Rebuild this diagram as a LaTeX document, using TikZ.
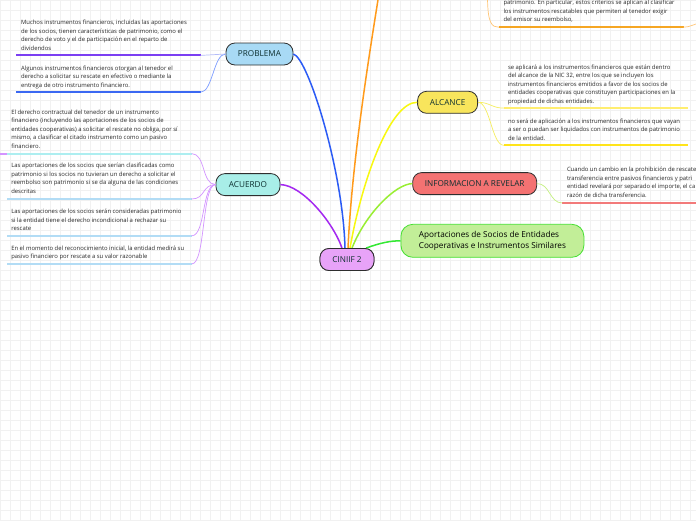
\documentclass[tikz,border=0pt]{standalone}
\usepackage{fontspec}
\setmainfont{Open Sans}
\definecolor{gridc}{HTML}{F1F1F1}
\definecolor{txtc}{HTML}{2A2A2A}
\definecolor{labc}{HTML}{0E3030}
\definecolor{bord}{HTML}{2E2E2E}
\definecolor{fcin}{HTML}{E8A3F8}
\definecolor{fprob}{HTML}{A8DAF5}
\definecolor{facu}{HTML}{A8EEE8}
\definecolor{falc}{HTML}{F8E55C}
\definecolor{finf}{HTML}{F47272}
\definecolor{fapo}{HTML}{C2EE98}
\definecolor{dapo}{HTML}{44E030}
\definecolor{cblue}{HTML}{2B5BF5}
\definecolor{cpurp}{HTML}{A428F0}
\definecolor{corg}{HTML}{FF9A1A}
\definecolor{cyel}{HTML}{F8F810}
\definecolor{clg}{HTML}{99EE33}
\definecolor{cgr}{HTML}{33E833}
\definecolor{kprob1}{HTML}{B4BCF8}
\definecolor{kprob2}{HTML}{7C9CFF}
\definecolor{kacu}{HTML}{D394FF}
\definecolor{kalc}{HTML}{F6EE60}
\definecolor{kinf}{HTML}{C4F080}
\definecolor{korg}{HTML}{FFC677}
\definecolor{uprob1}{HTML}{7B3FF2}
\definecolor{uprob2}{HTML}{3B68F2}
\definecolor{uacu1}{HTML}{ADEEF0}
\definecolor{uacu}{HTML}{B2DCF5}
\definecolor{ualc1}{HTML}{FFEE70}
\definecolor{ualc2}{HTML}{FFE41A}
\definecolor{uinf}{HTML}{F27A7A}
\definecolor{uorg}{HTML}{F5A623}
\begin{document}
\begin{tikzpicture}[x=1pt,y=-1pt,
  topic/.style={draw=bord, line width=0.8pt, rounded corners=9pt, minimum height=22pt, inner sep=0pt, font=\fontsize{8.2}{10}\selectfont, text=labc},
  txt/.style={anchor=north west, inner sep=0pt, align=left, font=\fontsize{5.9}{8.5}\selectfont, text=txtc},
  uline/.style={line width=2pt},
  branch/.style={line width=1.5pt},
  twig/.style={line width=0.7pt}]
\useasboundingbox (0,0) rectangle (696,520);
\clip (0,0) rectangle (696,520);
\fill[white] (0,0) rectangle (696,520);
\foreach \i in {0,10,...,690} \draw[gridc, line width=0.4pt] (\i,0) -- (\i,520);
\foreach \j in {0,10,...,520} \draw[gridc, line width=0.4pt] (0,\j) -- (696,\j);

% main topics
\node[topic, fill=fcin, minimum width=54pt] (cin) at (347,259.5) {CINIIF 2};
\node[topic, fill=fprob, minimum width=67pt] (prob) at (259.5,54) {PROBLEMA};
\node[topic, fill=facu, minimum width=64pt] (acu) at (248,184.6) {ACUERDO};
\node[topic, fill=falc, minimum width=60pt] (alc) at (447.6,102.3) {ALCANCE};
\node[topic, fill=finf, minimum width=124pt] (inf) at (474.7,183.6) {INFORMACION A REVELAR};
\node[topic, draw=dapo, fill=fapo, minimum width=183pt, minimum height=33pt, rounded corners=12pt, align=left, font=\fontsize{8.2}{11}\selectfont, text=black] (apo) at (492.4,240.8) {Aportaciones de Socios de Entidades\\Cooperativas e Instrumentos Similares};

% text blocks
\node[txt] (p1) at (20.9,19.9) {Muchos instrumentos financieros, incluidas las aportaciones\\de los socios, tienen características de patrimonio, como el\\derecho de voto y el de participación en el reparto de\\dividendos};
\node[txt] (p2) at (20.9,65.6) {Algunos instrumentos financieros otorgan al tenedor el\\derecho a solicitar su rescate en efectivo o mediante la\\entrega de otro instrumento financiero.};
\node[txt] (a1) at (11.1,109.4) {El derecho contractual del tenedor de un instrumento\\financiero (incluyendo las aportaciones de los socios de\\entidades cooperativas) a solicitar el rescate no obliga, por sí\\mismo, a clasificar el citado instrumento como un pasivo\\financiero.};
\node[txt] (a2) at (11.1,163.1) {Las aportaciones de los socios que serían clasificadas como\\patrimonio si los socios no tuvieran un derecho a solicitar el\\reembolso son patrimonio si se da alguna de las condiciones\\descritas};
\node[txt] (a3) at (11.1,208.9) {Las aportaciones de los socios serán consideradas patrimonio\\si la entidad tiene el derecho incondicional a rechazar su\\rescate};
\node[txt, font=\fontsize{5.9}{8}\selectfont] (a4) at (11.1,245.7) {En el momento del reconocimiento inicial, la entidad medirá su\\pasivo financiero por rescate a su valor razonable};
\node[txt] (l1) at (507.8,64.6) {se aplicará a los instrumentos financieros que están dentro\\del alcance de la NIC 32, entre los que se incluyen los\\instrumentos financieros emitidos a favor de los socios de\\entidades cooperativas que constituyen participaciones en la\\propiedad de dichas entidades.};
\node[txt] (l2) at (507.8,118.7) {no será de aplicación a los instrumentos financieros que vayan\\a ser o puedan ser liquidados con instrumentos de patrimonio\\de la entidad.};
\node[txt] (i1) at (566.8,167.1) {Cuando un cambio en la prohibición de rescate\\transferencia entre pasivos financieros y patri\\entidad revelará por separado el importe, el ca\\razón de dicha transferencia.};
\node[txt] (o1) at (503.3,0) {patrimonio. En particular, estos criterios se aplican al clasificar\\los instrumentos rescatables que permiten al tenedor exigir\\del emisor su reembolso,};

% underline end points
\coordinate (p1L) at (16.4,55.4);  \coordinate (p1R) at (200.6,55.4);
\coordinate (p2L) at (16.4,92.2);  \coordinate (p2R) at (200.6,92.2);
\coordinate (a1L) at (7,153.6);    \coordinate (a1R) at (191.7,153.6);
\coordinate (a2L) at (7,199);      \coordinate (a2R) at (191.7,199);
\coordinate (a3L) at (7,235.8);    \coordinate (a3R) at (191.7,235.8);
\coordinate (a4L) at (7,264);      \coordinate (a4R) at (191.7,264);
\coordinate (l1L) at (503.8,108.1); \coordinate (l1R) at (687.5,108.1);
\coordinate (l2L) at (503.8,145.3); \coordinate (l2R) at (687.5,145.3);
\coordinate (i1L) at (562.4,203);  \coordinate (i1R) at (700,203);
\coordinate (o1L) at (498.9,27.2); \coordinate (o1R) at (683.5,27.2);
\coordinate (otop) at (378.6,-4);
\coordinate (ostub) at (487.5,-4);
\coordinate (oright) at (700,23);
\coordinate (aleft) at (0,153.6);

% underlines
\draw[uline, uprob1] (p1L) -- (p1R);
\draw[uline, uprob2] (p2L) -- (p2R);
\draw[uline, uacu1] (a1L) -- (a1R);
\draw[uline, kacu] (aleft) -- (a1L);
\draw[uline, uacu] (a2L) -- (a2R);
\draw[uline, uacu] (a3L) -- (a3R);
\draw[uline, uacu] (a4L) -- (a4R);
\draw[uline, ualc1] (l1L) -- (l1R);
\draw[uline, ualc2] (l2L) -- (l2R);
\draw[uline, uinf] (i1L) -- (i1R);
\draw[uline, uorg] (o1L) -- (o1R);

% twigs
\draw[twig, kprob1] (prob.west) .. controls +(-12,0) and +(12,0) .. (p1R);
\draw[twig, kprob2] (prob.west) .. controls +(-12,0) and +(12,0) .. (p2R);
\foreach \e in {a1R,a2R,a3R,a4R}
  \draw[twig, kacu] (acu.west) .. controls +(-14,0) and +(14,0) .. (\e);
\draw[twig, kalc] (alc.east) .. controls +(12,0) and +(-12,0) .. (l1L);
\draw[twig, kalc] (alc.east) .. controls +(12,0) and +(-12,0) .. (l2L);
\draw[twig, kinf] (inf.east) .. controls +(13,0) and +(-13,0) .. (i1L);
\draw[twig, korg] (ostub) .. controls (487.5,24) and (492,27.2) .. (o1L);
\draw[twig, korg] (o1R) .. controls (690,27.2) and (694,24) .. (oright);

% branches
\draw[branch, cblue] (prob.east) .. controls (308,58) and (343,170) .. ([xshift=-2pt]cin.north);
\draw[branch, cpurp] (acu.east) .. controls (302,185) and (333,222) .. ([xshift=-5pt]cin.north);
\draw[branch, corg] ([xshift=1pt]cin.north) .. controls (352,160) and (370,50) .. (otop);
\draw[branch, cyel] ([xshift=3pt]cin.north) .. controls (362,180) and (390,102) .. (alc.west);
\draw[branch, clg] ([xshift=5pt]cin.north) .. controls (365,215) and (395,184) .. (inf.west);
\draw[branch, cgr] ([xshift=19pt]cin.north) .. controls (380,243) and (390,240.8) .. (apo.west);

% redraw root on top of branches
\node[topic, fill=fcin, minimum width=54pt] (cin2) at (cin) {CINIIF 2};
\end{tikzpicture}
\end{document}
